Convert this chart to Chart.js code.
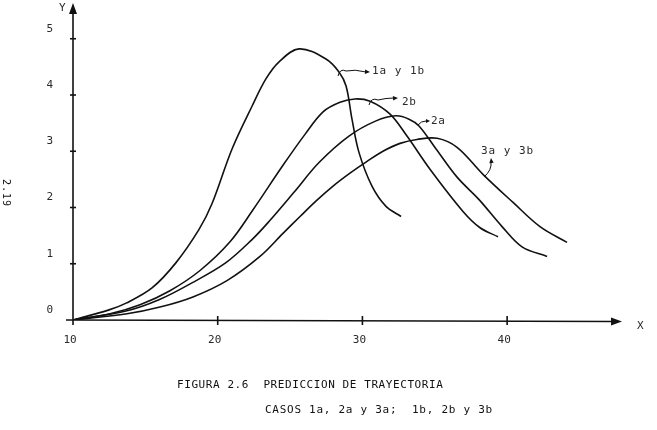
<!DOCTYPE html>
<html>
<head>
<meta charset="utf-8">
<script src="https://cdn.jsdelivr.net/npm/chart.js@4.4.0/dist/chart.umd.min.js"></script>
<style>
  html, body { margin: 0; padding: 0; background: #fff; }
  #wrap { width: 657px; height: 430px; }
</style>
</head>
<body>
<div id="wrap"><canvas id="c" width="657" height="430"></canvas></div>
<script>
// ---- data ----
const xTicks = [10, 20, 30, 40];
const yTicks = [0, 1, 2, 3, 4, 5];

const c1_x = [10, 12.49, 13.67, 15.46, 17.12, 18.71, 19.61, 20.99, 22.37, 23.34, 24.24, 25.62, 27.48, 28.38, 28.87, 29.28, 29.76, 30.66, 31.63, 32.67];
const c1_y = [0, 0.18, 0.30, 0.57, 1.02, 1.61, 2.07, 3.04, 3.80, 4.29, 4.59, 4.82, 4.64, 4.41, 4.16, 3.57, 2.98, 2.38, 2.02, 1.84];

const c2b_x = [10, 12.56, 14.63, 16.70, 18.78, 20.85, 22.44, 24.51, 26.03, 27.28, 28.45, 29.49, 30.53, 31.91, 33.08, 34.67, 36.95, 38.13, 39.37];
const c2b_y = [0, 0.11, 0.27, 0.52, 0.88, 1.39, 1.96, 2.75, 3.30, 3.70, 3.87, 3.93, 3.89, 3.66, 3.27, 2.68, 1.93, 1.64, 1.48];

const c2a_x = [10, 13.66, 15.94, 18.22, 20.57, 22.37, 23.54, 25.27, 27.00, 29.07, 30.94, 32.32, 33.22, 33.91, 35.09, 36.54, 38.06, 39.65, 41.03, 42.76];
const c2a_y = [0, 0.16, 0.36, 0.66, 1.02, 1.43, 1.75, 2.27, 2.80, 3.27, 3.54, 3.63, 3.57, 3.45, 3.04, 2.54, 2.14, 1.66, 1.30, 1.13];

const c3_x = [10, 13.73, 16.01, 18.29, 20.64, 22.92, 24.51, 25.69, 26.86, 27.97, 29.14, 30.32, 31.42, 32.60, 33.77, 35.16, 36.54, 38.33, 40.41, 42.27, 44.14];
const c3_y = [0, 0.11, 0.23, 0.41, 0.70, 1.13, 1.54, 1.84, 2.13, 2.38, 2.61, 2.82, 3.00, 3.14, 3.21, 3.23, 3.07, 2.59, 2.09, 1.66, 1.38];

const seriesNames = ['1a y 1b', '2b', '2a', '3a y 3b'];
const captionLines = ['FIGURA 2.6  PREDICCION DE TRAYECTORIA', 'CASOS 1a, 2a y 3a;  1b, 2b y 3b'];

// ---- build ----
const toPts = (xs, ys) => xs.map((x, i) => ({ x: x, y: ys[i] }));
const INK = '#111';
const TXT = '#2a2a2a';
const FONT = '"DejaVu Sans Mono", "Liberation Mono", monospace';

function mkDs(label, xs, ys) {
  return {
    label: label,
    data: toPts(xs, ys),
    showLine: true,
    borderColor: INK,
    borderWidth: 1.6,
    pointRadius: 0,
    fill: false,
    tension: 0.35
  };
}

function spaced(ctx, text, x, y, pitch) {
  for (let i = 0; i < text.length; i++) {
    ctx.fillText(text[i], x + i * pitch, y);
  }
}

function arrowHead(ctx, tx, ty, angle, len, wid) {
  ctx.beginPath();
  ctx.moveTo(tx, ty);
  ctx.lineTo(tx - len * Math.cos(angle) + wid * Math.sin(angle), ty - len * Math.sin(angle) - wid * Math.cos(angle));
  ctx.lineTo(tx - len * Math.cos(angle) - wid * Math.sin(angle), ty - len * Math.sin(angle) + wid * Math.cos(angle));
  ctx.closePath();
  ctx.fill();
}

function zeroPad(s) { s.paddingTop = 0; s.paddingBottom = 0; s.paddingLeft = 0; s.paddingRight = 0; }

const decor = {
  id: 'decor',
  beforeDraw(chart) {
    const ctx = chart.ctx;
    ctx.save();
    ctx.fillStyle = '#fff';
    ctx.fillRect(0, 0, chart.width, chart.height);
    ctx.restore();
  },
  beforeDatasetsDraw(chart) {
    const ctx = chart.ctx;
    const a = chart.chartArea;
    const xs = chart.scales.x, ys = chart.scales.y;
    const x0 = xs.getPixelForValue(10);
    const y0 = ys.getPixelForValue(0);
    ctx.save();
    ctx.strokeStyle = INK;
    ctx.fillStyle = INK;
    ctx.lineWidth = 1.6;
    // y axis
    ctx.beginPath();
    ctx.moveTo(x0, y0 + 5);
    ctx.lineTo(x0, a.top + 6);
    ctx.stroke();
    arrowHead(ctx, x0, a.top - 2, -Math.PI / 2, 11, 4);
    // x axis
    ctx.beginPath();
    ctx.moveTo(x0 - 7, y0);
    ctx.lineTo(a.right - 6, y0 + 1.5);
    ctx.stroke();
    arrowHead(ctx, a.right + 2, y0 + 1.5, 0, 11, 4);
    // tick marks
    yTicks.forEach(v => {
      if (v === 0) return;
      const p = ys.getPixelForValue(v);
      ctx.beginPath(); ctx.moveTo(x0 - 3, p); ctx.lineTo(x0 + 3, p); ctx.stroke();
    });
    xTicks.forEach(v => {
      if (v === 10) return;
      const p = xs.getPixelForValue(v);
      ctx.beginPath(); ctx.moveTo(p, y0 - 4); ctx.lineTo(p, y0 + 5); ctx.stroke();
    });
    ctx.restore();
  },
  afterDraw(chart) {
    const ctx = chart.ctx;
    ctx.save();
    ctx.fillStyle = TXT;
    ctx.textBaseline = 'middle';
    ctx.textAlign = 'left';
    ctx.font = '11px ' + FONT;
    // axis names
    ctx.fillText('Y', 59, 8);
    ctx.fillText('X', 637, 326);
    // series labels
    spaced(ctx, seriesNames[0], 372, 71, 7.6);
    spaced(ctx, seriesNames[1], 402, 102, 7.2);
    spaced(ctx, seriesNames[2], 431, 121, 7.2);
    spaced(ctx, seriesNames[3], 481, 151, 7.6);
    // annotation arrows
    ctx.strokeStyle = INK;
    ctx.fillStyle = INK;
    ctx.lineWidth = 1;
    ctx.beginPath();
    ctx.moveTo(338, 76); ctx.quadraticCurveTo(340, 68, 346, 71);
    ctx.quadraticCurveTo(355, 69, 366, 72); ctx.stroke();
    arrowHead(ctx, 370, 72, 0.05, 5, 2.2);
    ctx.beginPath();
    ctx.moveTo(369, 105); ctx.quadraticCurveTo(371, 97, 378, 100);
    ctx.quadraticCurveTo(386, 98, 394, 98); ctx.stroke();
    arrowHead(ctx, 398, 98, -0.05, 5, 2.2);
    ctx.beginPath();
    ctx.moveTo(418, 125); ctx.quadraticCurveTo(421, 121, 426, 121); ctx.stroke();
    arrowHead(ctx, 430, 121, 0, 4, 2);
    ctx.beginPath();
    ctx.moveTo(484, 177); ctx.quadraticCurveTo(492, 170, 491, 162); ctx.stroke();
    arrowHead(ctx, 491, 158, -Math.PI / 2 - 0.1, 5, 2.2);
    // page number (rotated)
    ctx.save();
    ctx.translate(6, 193);
    ctx.rotate(Math.PI / 2);
    ctx.textAlign = 'center';
    ctx.font = '10px ' + FONT;
    spaced(ctx, '2.19', -11, 0, 7);
    ctx.restore();
    // caption
    ctx.font = '11px ' + FONT;
    spaced(ctx, captionLines[0], 177, 385, 7.2);
    spaced(ctx, captionLines[1], 265, 410, 7.35);
    ctx.restore();
  }
};

new Chart(document.getElementById('c'), {
  type: 'scatter',
  data: {
    datasets: [
      mkDs(seriesNames[0], c1_x, c1_y),
      mkDs(seriesNames[1], c2b_x, c2b_y),
      mkDs(seriesNames[2], c2a_x, c2a_y),
      mkDs(seriesNames[3], c3_x, c3_y)
    ]
  },
  options: {
    responsive: false,
    devicePixelRatio: 1,
    animation: false,
    layout: { padding: { left: 0, right: 37, top: 5, bottom: 0 } },
    plugins: { legend: { display: false }, tooltip: { enabled: false } },
    scales: {
      x: {
        type: 'linear', min: 10, max: 47.8,
        grid: { display: false, drawTicks: false },
        border: { display: false },
        ticks: { color: TXT, font: { family: FONT, size: 11 }, padding: 14, labelOffset: -3, maxRotation: 0, autoSkip: false },
        afterBuildTicks: s => { s.ticks = xTicks.map(v => ({ value: v })); },
        afterFit: s => { s.height = 110; zeroPad(s); }
      },
      y: {
        type: 'linear', min: 0, max: 5.6,
        grid: { display: false, drawTicks: false },
        border: { display: false },
        ticks: { color: TXT, font: { family: FONT, size: 11 }, padding: 20, labelOffset: -10 },
        afterBuildTicks: s => { s.ticks = yTicks.map(v => ({ value: v })); },
        afterFit: s => { s.width = 73; zeroPad(s); }
      }
    }
  },
  plugins: [decor]
});
</script>
</body>
</html>
